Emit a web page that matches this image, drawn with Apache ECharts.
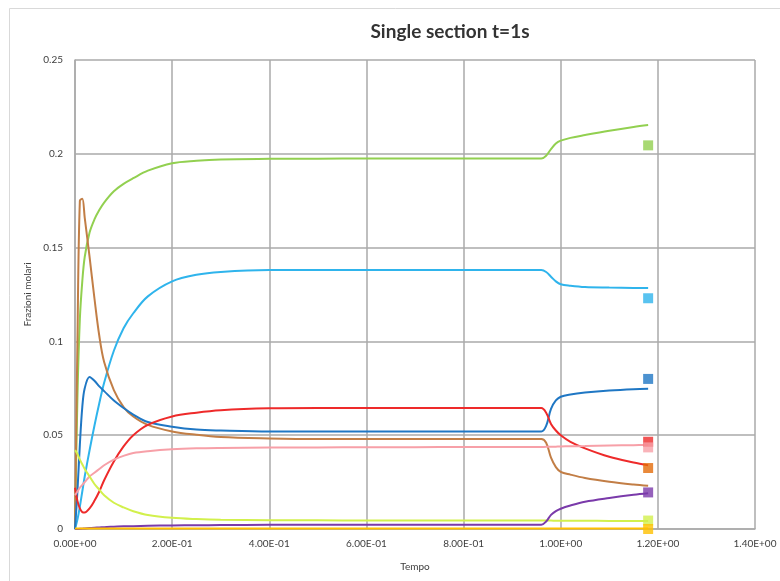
<!DOCTYPE html>
<html>
<head>
<meta charset="utf-8">
<script src="https://cdn.jsdelivr.net/npm/echarts@6/dist/echarts.min.js"></script>
<style>html,body{margin:0;padding:0;background:#fff;}#c{width:780px;height:581px;}</style>
</head>
<body>
<div id="c"></div>
<script>
// ---- data ----
var title = 'Single section t=1s';
var xName = 'Tempo';
var yName = 'Frazioni molari';
var xTickLabels = ['0.00E+00','2.00E-01','4.00E-01','6.00E-01','8.00E-01','1.00E+00','1.20E+00','1.40E+00'];
var yTickLabels = ['0','0.05','0.1','0.15','0.2','0.25'];

var t = [0, 0.005, 0.01, 0.015, 0.02, 0.03, 0.04, 0.05, 0.06, 0.08, 0.1, 0.12, 0.15, 0.2, 0.25, 0.3, 0.4, 0.5, 0.6, 0.7, 0.8, 0.9, 0.96, 0.97, 0.98, 0.99, 1.0, 1.02, 1.05, 1.1, 1.15, 1.18];

var green     = [0, 0.07, 0.112, 0.132, 0.145, 0.158, 0.165, 0.170, 0.174, 0.180, 0.184, 0.187, 0.191, 0.195, 0.1963, 0.197, 0.1973, 0.1974, 0.1975, 0.1975, 0.1975, 0.1975, 0.1975, 0.199, 0.2025, 0.2055, 0.207, 0.2085, 0.210, 0.2123, 0.2143, 0.2153];
var skyBlue   = [0, 0.005, 0.012, 0.02, 0.028, 0.042, 0.055, 0.067, 0.078, 0.095, 0.107, 0.115, 0.124, 0.132, 0.1355, 0.137, 0.138, 0.138, 0.138, 0.138, 0.138, 0.138, 0.138, 0.137, 0.1345, 0.132, 0.1305, 0.1297, 0.129, 0.1287, 0.1285, 0.1284];
var brown     = [0, 0.10, 0.175, 0.176, 0.166, 0.145, 0.123, 0.103, 0.089, 0.074, 0.065, 0.060, 0.0555, 0.052, 0.0502, 0.049, 0.0483, 0.048, 0.048, 0.048, 0.048, 0.048, 0.048, 0.046, 0.038, 0.033, 0.0305, 0.029, 0.0272, 0.0252, 0.0237, 0.023];
var darkBlue  = [0, 0.02, 0.045, 0.065, 0.075, 0.081, 0.079, 0.076, 0.0735, 0.0685, 0.0645, 0.061, 0.057, 0.0545, 0.053, 0.0525, 0.052, 0.052, 0.052, 0.052, 0.052, 0.052, 0.052, 0.055, 0.064, 0.0685, 0.0705, 0.0717, 0.0727, 0.0738, 0.0745, 0.0747];
var red       = [0.022, 0.015, 0.011, 0.009, 0.0088, 0.011, 0.015, 0.02, 0.026, 0.036, 0.044, 0.050, 0.0555, 0.060, 0.062, 0.0633, 0.0643, 0.0645, 0.0645, 0.0645, 0.0645, 0.0645, 0.0645, 0.062, 0.056, 0.0525, 0.050, 0.0465, 0.043, 0.0385, 0.0355, 0.034];
var pink      = [0.018, 0.02, 0.022, 0.0235, 0.025, 0.028, 0.030, 0.032, 0.034, 0.037, 0.039, 0.0405, 0.0415, 0.0425, 0.043, 0.0432, 0.0434, 0.0435, 0.0436, 0.0436, 0.0437, 0.0437, 0.0437, 0.0438, 0.0438, 0.0439, 0.044, 0.0441, 0.0442, 0.0445, 0.0447, 0.0448];
var lime      = [0.042, 0.04, 0.037, 0.0345, 0.032, 0.028, 0.024, 0.021, 0.018, 0.014, 0.0115, 0.0095, 0.0075, 0.006, 0.0053, 0.0049, 0.0047, 0.0046, 0.0045, 0.0045, 0.0045, 0.0045, 0.0045, 0.0045, 0.0045, 0.0044, 0.0044, 0.0044, 0.0044, 0.0043, 0.0043, 0.0043];
var purple    = [0, 0, 0.0001, 0.0002, 0.0003, 0.0005, 0.0007, 0.0008, 0.001, 0.0012, 0.0014, 0.0015, 0.0017, 0.0019, 0.002, 0.0021, 0.0022, 0.0022, 0.0022, 0.0022, 0.0022, 0.0022, 0.0022, 0.004, 0.0075, 0.0095, 0.0108, 0.0125, 0.0145, 0.0165, 0.0182, 0.019];
var gold      = [0.0003, 0.0003, 0.0003, 0.0003, 0.0003, 0.0003, 0.0003, 0.0003, 0.0003, 0.0003, 0.0003, 0.0003, 0.0003, 0.0003, 0.0003, 0.0003, 0.0003, 0.0003, 0.0003, 0.0003, 0.0003, 0.0003, 0.0003, 0.0003, 0.0003, 0.0003, 0.0003, 0.0003, 0.0003, 0.0003, 0.0003, 0.0003];

var markerT = 1.18;
var markerValues = [0.2045, 0.123, 0.080, 0.0465, 0.0435, 0.0325, 0.0195, 0.0045, 0.0];

// ---- styles ----
var lineSeries = [green, skyBlue, brown, darkBlue, red, pink, lime, purple, gold];
var lineColors = ['#92D050', '#2FB4EC', '#C27E46', '#1F77C4', '#EE2A2A', '#F7A0A8', '#D2F04C', '#7A3AAA', '#FFC000'];
var markerColors = ['#92D050', '#2FB4EC', '#1F77C4', '#EE2A2A', '#F7A0A8', '#E36C09', '#7A3AAA', '#D2F04C', '#FFC000'];

var series = [];
lineSeries.forEach(function (vals, k) {
  series.push({
    type: 'line',
    data: t.map(function (x, i) { return [x, vals[i]]; }),
    showSymbol: false,
    smooth: 0.35,
    lineStyle: { width: 2, color: lineColors[k] },
    itemStyle: { color: lineColors[k] },
    z: 2 + k * 0.01,
    animation: false
  });
});
markerValues.forEach(function (v, k) {
  series.push({
    type: 'scatter',
    data: [[markerT, v]],
    symbol: 'rect',
    symbolSize: 10,
    clip: false,
    itemStyle: { color: markerColors[k] },
    z: 5,
    animation: false
  });
});

var chart = echarts.init(document.getElementById('c'));
chart.setOption({
  backgroundColor: '#fff',
  animation: false,
  graphic: [
    { type: 'rect', shape: { x: 9.5, y: 8.5, width: 800, height: 600 }, style: { fill: 'none', stroke: '#D9D9D9', lineWidth: 1 }, z: -1 },
    { type: 'text', x: 450, y: 32, style: { text: title, textAlign: 'center', textVerticalAlign: 'middle', font: 'bold 19px Lato, "Liberation Sans", sans-serif', fill: '#333' } }
  ],
  grid: { left: 75, right: 25, top: 60, bottom: 52, containLabel: false },
  xAxis: {
    type: 'value', min: 0, max: 1.4, interval: 0.2,
    name: xName, nameLocation: 'middle', nameGap: 33,
    nameTextStyle: { fontSize: 10, color: '#404040', fontFamily: 'Lato' },
    axisLine: { show: true, lineStyle: { color: '#AAAAAA', width: 1.5 } },
    axisTick: { show: false },
    splitLine: { show: true, lineStyle: { color: '#AAAAAA', width: 1.5 } },
    axisLabel: {
      fontSize: 10, color: '#404040', fontFamily: 'Lato', margin: 10,
      formatter: function (v) { return xTickLabels[Math.round(v / 0.2)]; }
    }
  },
  yAxis: {
    type: 'value', min: 0, max: 0.25, interval: 0.05,
    name: yName, nameLocation: 'middle', nameGap: 41, nameRotate: 90,
    nameTextStyle: { fontSize: 10, color: '#404040', fontFamily: 'Lato' },
    axisLine: { show: true, lineStyle: { color: '#AAAAAA', width: 1.5 } },
    axisTick: { show: false },
    splitLine: { show: true, lineStyle: { color: '#AAAAAA', width: 1.5 } },
    axisLabel: {
      fontSize: 10, color: '#404040', fontFamily: 'Lato', margin: 12,
      formatter: function (v) { return yTickLabels[Math.round(v / 0.05)]; }
    }
  },
  series: series
});
</script>
</body>
</html>
